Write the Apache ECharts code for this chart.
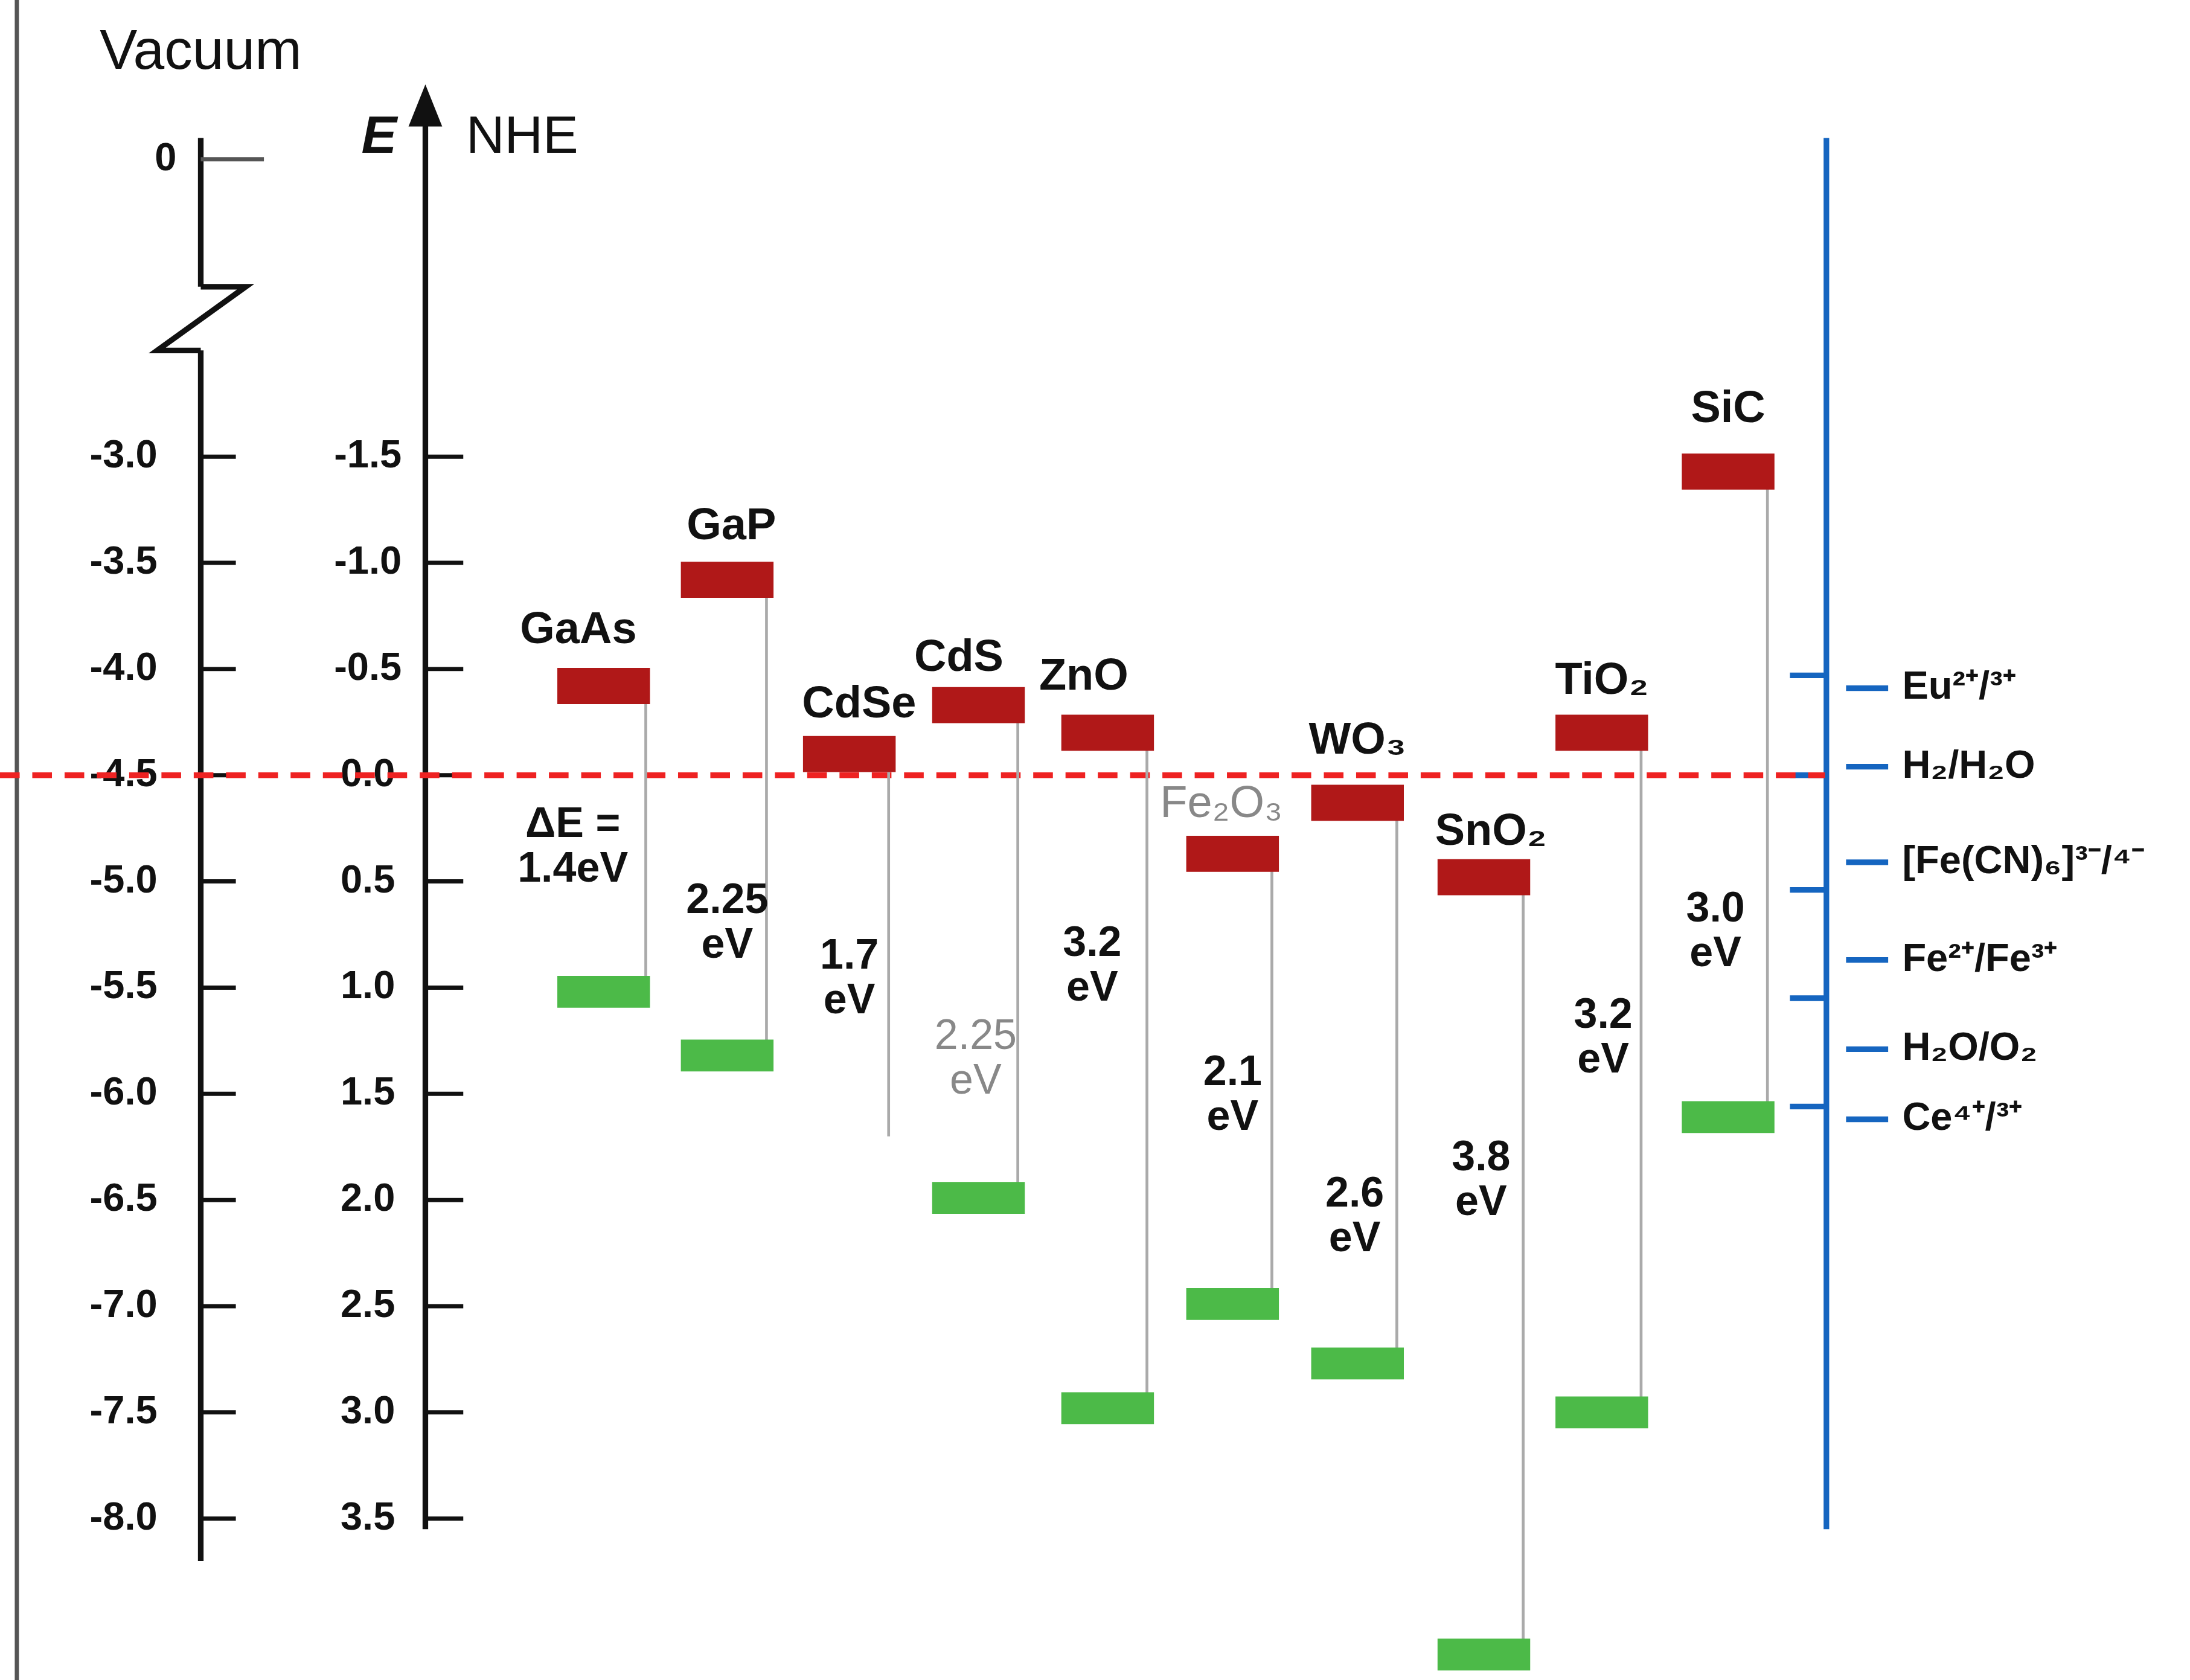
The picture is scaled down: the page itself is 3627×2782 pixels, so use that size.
<!DOCTYPE html>
<html><head><meta charset="utf-8">
<script src="https://cdn.jsdelivr.net/npm/echarts@6/dist/echarts.min.js"></script>
<style>html,body{margin:0;background:#fff}#c{width:3627px;height:2782px}</style>
</head><body><div id="c"></div>
<script>
// band edges vs NHE (eV)
const materials = ['GaAs','GaP','CdSe','CdS','ZnO','Fe₂O₃','WO₃','SnO₂','TiO₂','SiC'];
const xPos = [430,518,605,697,789,878,967,1057,1141,1231];
const cb = [-0.42,-0.92,-0.1,-0.33,-0.2,0.37,0.13,0.48,-0.2,-1.43];
const vb = [1.02,1.32,1.7,1.99,2.98,2.49,2.77,4.14,3.0,1.61];
const hasVbBar = [1,1,0,1,1,1,1,1,1,1];
const nameX = [412,521,612,683,772,870,967,1062,1141,1231];
const nameY = [-0.68,-1.17,-0.33,-0.55,-0.46,0.14,-0.16,0.27,-0.44,-1.72];
const nameGrey = [0,0,0,0,0,1,0,0,0,0];
const gapLabels = ['ΔE =\n1.4eV','2.25\neV','1.7\neV','2.25\neV','3.2\neV','2.1\neV','2.6\neV','3.8\neV','3.2\neV','3.0\neV'];
const gapX = [408,518,605,695,778,878,965,1055,1142,1222];
const gapY = [0.34,0.7,0.96,1.34,0.9,1.51,2.08,1.91,1.24,0.74];
const gapGrey = [0,0,0,1,0,0,0,0,0,0];

const nheTicks = [-1.5,-1.0,-0.5,0.0,0.5,1.0,1.5,2.0,2.5,3.0,3.5];
const nheLabels = ['-1.5','-1.0','-0.5','0.0','0.5','1.0','1.5','2.0','2.5','3.0','3.5'];
const vacLabels = ['-3.0','-3.5','-4.0','-4.5','-5.0','-5.5','-6.0','-6.5','-7.0','-7.5','-8.0'];
const vacZeroY = -2.9;

const redoxNames = ['Eu²⁺/³⁺','H₂/H₂O','[Fe(CN)₆]³⁻/⁴⁻','Fe²⁺/Fe³⁺','H₂O/O₂','Ce⁴⁺/³⁺'];
const redoxY = [-0.41,-0.04,0.41,0.87,1.29,1.62];
const redoxTicks = [-0.47,0.0,0.54,1.05,1.56];

const s = 2.325;
const F = 'Liberation Sans, Arial, sans-serif';
const chart = echarts.init(document.getElementById('c'));

function txt(p, text, opt) {
  return {type:'text', x:p[0], y:p[1], style:Object.assign({text:text, font:'bold '+Math.round(30*s)+'px '+F, fill:'#111', align:'center', verticalAlign:'middle', lineHeight:Math.round(32*s)}, opt||{})};
}
function line(a, b, stroke, w, dash) {
  return {type:'line', shape:{x1:a[0],y1:a[1],x2:b[0],y2:b[1]}, style:{stroke:stroke, lineWidth:w*s, lineDash:dash||null}};
}

const idx = materials.map((m,i)=>i);
chart.setOption({
  animation:false,
  grid:{left:0,right:0,top:0,bottom:0},
  xAxis:{type:'value',min:0,max:1560,show:false},
  yAxis:{type:'value',min:-3.65,max:4.26,inverse:true,show:false},
  series:[
    {type:'custom', data:[0], renderItem:(p,api)=>{
      const c=[];
      c.push(line(api.coord([12,-3.65]),api.coord([12,4.26]),'#555',3));
      // vacuum axis with break
      c.push(line(api.coord([143,-3.0]),api.coord([143,-2.3]),'#111',4));
      c.push({type:'polyline',shape:{points:[api.coord([143,-2.3]),api.coord([175,-2.3]),api.coord([112,-2.0]),api.coord([143,-2.0])]},style:{stroke:'#111',lineWidth:4*s,fill:null}});
      c.push(line(api.coord([143,-2.0]),api.coord([143,3.7]),'#111',4));
      c.push(line(api.coord([143,vacZeroY]),api.coord([188,vacZeroY]),'#555',3));
      c.push(txt(api.coord([118,vacZeroY]),'0',{font:'bold '+Math.round(28*s)+'px '+F}));
      c.push(txt(api.coord([143,-3.4]),'Vacuum',{font:Math.round(40*s)+'px '+F,align:'center'}));
      // NHE axis
      c.push(line(api.coord([303,-3.1]),api.coord([303,3.55]),'#111',4));
      const t=api.coord([303,-3.2]);
      c.push({type:'polygon',shape:{points:[[t[0],t[1]-8*s],[t[0]-12*s,t[1]+22*s],[t[0]+12*s,t[1]+22*s]]},style:{fill:'#111'}});
      c.push(txt(api.coord([270,-3.0]),'E',{font:'italic bold '+Math.round(38*s)+'px '+F}));
      c.push(txt(api.coord([372,-3.0]),'NHE',{font:Math.round(38*s)+'px '+F}));
      nheTicks.forEach((v,i)=>{
        c.push(line(api.coord([303,v]),api.coord([330,v]),'#111',3));
        c.push(line(api.coord([143,v]),api.coord([168,v]),'#111',3));
        c.push(txt(api.coord([262,v]),nheLabels[i],{font:'bold '+Math.round(28*s)+'px '+F}));
        c.push(txt(api.coord([88,v]),vacLabels[i],{font:'bold '+Math.round(28*s)+'px '+F}));
      });
      // redox scale
      c.push(line(api.coord([1301,-3.0]),api.coord([1301,3.55]),'#1565c0',4));
      redoxTicks.forEach(v=>c.push(line(api.coord([1275,v]),api.coord([1301,v]),'#1565c0',4)));
      redoxNames.forEach((n,i)=>{
        c.push(line(api.coord([1315,redoxY[i]]),api.coord([1345,redoxY[i]]),'#1565c0',4));
        c.push(txt(api.coord([1355,redoxY[i]]),n,{align:'left',font:'bold '+Math.round(28*s)+'px '+F}));
      });
      // H2/H2O reference dashed line
      c.push(line(api.coord([0,0]),api.coord([1300,0]),'#ee2222',4,[14*s,9*s]));
      return {type:'group',children:c};
    }},
    {type:'custom', data:idx, renderItem:(p,api)=>{
      const i=p.dataIndex, x=xPos[i], c=[];
      const lx=x+(i===0?30:28);
      c.push(line(api.coord([lx,cb[i]]),api.coord([lx,vb[i]]),'#aaa',2));
      const a=api.coord([x-33,cb[i]-0.085]), b=api.coord([x+33,cb[i]+0.085]);
      c.push({type:'rect',shape:{x:a[0],y:a[1],width:b[0]-a[0],height:b[1]-a[1]},style:{fill:'#b01818'}});
      if(hasVbBar[i]){
        const g1=api.coord([x-33,vb[i]-0.075]), g2=api.coord([x+33,vb[i]+0.075]);
        c.push({type:'rect',shape:{x:g1[0],y:g1[1],width:g2[0]-g1[0],height:g2[1]-g1[1]},style:{fill:'#4cba48'}});
      }
      c.push(txt(api.coord([nameX[i],nameY[i]]),materials[i],{fill:nameGrey[i]?'#888':'#111',font:(nameGrey[i]?'':'bold ')+Math.round(32*s)+'px '+F}));
      c.push(txt(api.coord([gapX[i],gapY[i]]),gapLabels[i],{fill:gapGrey[i]?'#888':'#111',font:(gapGrey[i]?'':'bold ')+Math.round(30*s)+'px '+F}));
      return {type:'group',children:c};
    }}
  ]
});
</script></body></html>
